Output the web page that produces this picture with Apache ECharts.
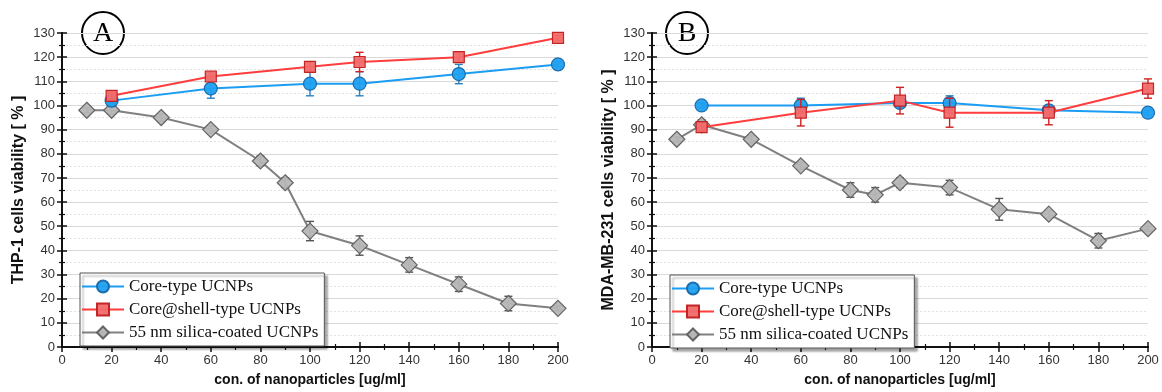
<!DOCTYPE html>
<html>
<head>
<meta charset="utf-8">
<script src="https://cdn.jsdelivr.net/npm/echarts@6/dist/echarts.min.js"></script>
<style>
  html, body { margin: 0; padding: 0; background: #fff; }
  #chart { width: 1162px; height: 392px; }
</style>
</head>
<body>
<div id="chart"></div>
<script>
// Concentrations (ug/ml)
const xCore = [20, 60, 100, 120, 160, 200];
const xSilica = [10, 20, 40, 60, 80, 90, 100, 120, 140, 160, 180, 200];

// Panel A: THP-1 viability (%) and standard deviations
const thpCore = [102, 107, 109, 109, 113, 117];
const thpCoreErr = [1, 4, 5, 5, 4, 1];
const thpShell = [104, 112, 116, 118, 120, 128];
const thpShellErr = [1.5, 2, 2, 4, 2, 1];
const thpSilica = [98, 98, 95, 90, 77, 68, 48, 42, 34, 26, 18, 16];
const thpSilicaErr = [1, 1.5, 1.5, 1.5, 2, 2, 4, 4, 3, 3, 3, 1];

// Panel B: MDA-MB-231 viability (%) and standard deviations
const mdaCore = [100, 100, 101, 101, 98, 97];
const mdaCoreErr = [1, 3, 2, 3, 2, 1];
const mdaShell = [91, 97, 102, 97, 97, 107];
const mdaShellErr = [2, 5.5, 5.5, 6, 5, 4];
const mdaSilica = [86, 92, 86, 75, 65, 63, 68, 66, 57, 55, 44, 49];
const mdaSilicaErr = [1, 2, 1.5, 1.5, 3, 3, 2, 3, 4.5, 1.5, 3, 1];

const seriesNames = ['Core-type UCNPs', 'Core@shell-type UCNPs', '55 nm silica-coated UCNPs'];
const panelLetters = ['A', 'B'];
const yTitles = ['THP-1 cells viability [ % ]', 'MDA-MB-231 cells viability [ % ]'];
const xTitle = 'con. of nanoparticles [ug/ml]';

const styles = [
  { line: '#1A9DF2', fill: '#1FA0F0', border: '#1667A8', err: '#2A7FC0', symbol: 'circle', size: 13, z: 4 },
  { line: '#FF3D3D', fill: '#F26C6C', border: '#C01E1E', err: '#D02020', symbol: 'rect', size: 11, z: 5 },
  { line: '#808080', fill: '#B6B6B6', border: '#5E5E5E', err: '#555555', symbol: 'diamond', size: 16, z: 3 }
];

const FONT = "'Liberation Sans', Arial, sans-serif";
const SERIF = "'Liberation Serif', 'Times New Roman', serif";

const grids = [
  { left: 62, right: 604, top: 33, bottom: 40 },
  { left: 652, right: 14, top: 33, bottom: 40 }
];

function pairs(xs, ys) { return xs.map((x, i) => [x, ys[i]]); }
function errData(xs, ys, es) { return xs.map((x, i) => [x, ys[i] - es[i], ys[i] + es[i]]); }

// Vertical error bar with short caps, drawn in data coordinates
function errorBarRender(color) {
  return function (params, api) {
    const x = api.value(0);
    const lo = api.coord([x, api.value(1)]);
    const hi = api.coord([x, api.value(2)]);
    const w = 4;
    const st = { stroke: color, lineWidth: 1.4 };
    return {
      type: 'group',
      children: [
        { type: 'line', shape: { x1: lo[0], y1: lo[1], x2: hi[0], y2: hi[1] }, style: st },
        { type: 'line', shape: { x1: lo[0] - w, y1: lo[1], x2: lo[0] + w, y2: lo[1] }, style: st },
        { type: 'line', shape: { x1: hi[0] - w, y1: hi[1], x2: hi[0] + w, y2: hi[1] }, style: st }
      ]
    };
  };
}

const xAxes = [], yAxes = [], series = [], legends = [], graphics = [];

const panels = [
  { core: thpCore, coreErr: thpCoreErr, shell: thpShell, shellErr: thpShellErr, silica: thpSilica, silicaErr: thpSilicaErr },
  { core: mdaCore, coreErr: mdaCoreErr, shell: mdaShell, shellErr: mdaShellErr, silica: mdaSilica, silicaErr: mdaSilicaErr }
];

const axisLine = { show: true, lineStyle: { color: '#111', width: 2 } };
const axisTick = { show: true, length: 5, lineStyle: { color: '#111', width: 1.5 } };
const minorTick = { show: true, splitNumber: 2, length: 3, lineStyle: { color: '#111', width: 1.2 } };
const axisLabel = { color: '#333', fontFamily: FONT, fontSize: 13, margin: 7 };

panels.forEach((p, gi) => {
  // bottom x axis + mirrored top frame axis
  xAxes.push({
    gridIndex: gi, type: 'value', min: 0, max: 200, interval: 20, position: 'bottom',
    name: xTitle, nameLocation: 'middle', nameGap: 26,
    nameTextStyle: { fontFamily: FONT, fontWeight: 'bold', fontSize: 14, color: '#111' },
    axisLine, axisTick, minorTick, axisLabel,
    splitLine: { show: false }, minorSplitLine: { show: false }
  });
  xAxes.push({
    gridIndex: gi, type: 'value', min: 0, max: 200, interval: 20, position: 'top',
    axisLine, axisTick, minorTick, axisLabel: { show: false },
    splitLine: { show: false }
  });
  // left y axis + mirrored right frame axis
  yAxes.push({
    gridIndex: gi, type: 'value', min: 0, max: 130, interval: 10, position: 'left',
    name: yTitles[gi], nameLocation: 'middle', nameGap: 35,
    nameTextStyle: { fontFamily: FONT, fontWeight: 'bold', fontSize: 16, color: '#111' },
    axisLine, axisTick, minorTick, axisLabel,
    splitLine: { show: true, lineStyle: { color: '#d9d9d9', width: 1 } },
    minorSplitLine: { show: true, lineStyle: { color: '#e2e2e2', width: 1, type: [2, 2] } }
  });
  yAxes.push({
    gridIndex: gi, type: 'value', min: 0, max: 130, interval: 10, position: 'right',
    axisLine, axisTick, minorTick, axisLabel: { show: false },
    splitLine: { show: false }
  });

  const xi = gi * 2, yi = gi * 2;
  const sets = [
    [xCore, p.core, p.coreErr],
    [xCore, p.shell, p.shellErr],
    [xSilica, p.silica, p.silicaErr]
  ];
  sets.forEach((s, k) => {
    const st = styles[k];
    series.push({
      type: 'custom', name: 'err' + gi + k, xAxisIndex: xi, yAxisIndex: yi,
      data: errData(s[0], s[1], s[2]), encode: { x: 0, y: [1, 2] },
      renderItem: errorBarRender(st.err), z: st.z, silent: true
    });
    series.push({
      type: 'line', name: seriesNames[k], xAxisIndex: xi, yAxisIndex: yi,
      data: pairs(s[0], s[1]),
      symbol: st.symbol, symbolSize: st.size, showAllSymbol: true,
      lineStyle: { color: st.line, width: 2 },
      itemStyle: { color: st.fill, borderColor: st.border, borderWidth: 1.2, opacity: 0.95 },
      z: st.z + 0.5, animation: false
    });
  });

  legends.push({
    data: seriesNames,
    left: gi === 0 ? 80 : 670, top: gi === 0 ? 273 : 275,
    orient: 'vertical', itemWidth: 42, itemHeight: 15, itemGap: 6,
    padding: [5, 6, 5, 1],
    backgroundColor: '#fff', borderColor: '#555', borderWidth: 1,
    shadowColor: 'rgba(0,0,0,0.35)', shadowBlur: 2, shadowOffsetX: 3, shadowOffsetY: 3,
    textStyle: { fontFamily: SERIF, fontSize: 17, color: '#111', padding: [0, 0, 0, 0] },
    selectedMode: false
  });

  const cx = gi === 0 ? 103 : 687;
  graphics.push({
    type: 'group', z: 100,
    children: [
      { type: 'circle', shape: { cx: cx, cy: 33, r: 21 }, style: { fill: '#fff', stroke: '#000', lineWidth: 2 } },
      { type: 'text', x: cx, y: 34, style: { text: panelLetters[gi], fontFamily: SERIF, fontSize: 28, fill: '#000', align: 'center', verticalAlign: 'middle' } }
    ]
  });
});

const chart = echarts.init(document.getElementById('chart'), null, { renderer: 'canvas' });
chart.setOption({
  animation: false,
  backgroundColor: '#fff',
  grid: grids,
  xAxis: xAxes,
  yAxis: yAxes,
  legend: legends,
  series: series,
  graphic: graphics
});
</script>
</body>
</html>
